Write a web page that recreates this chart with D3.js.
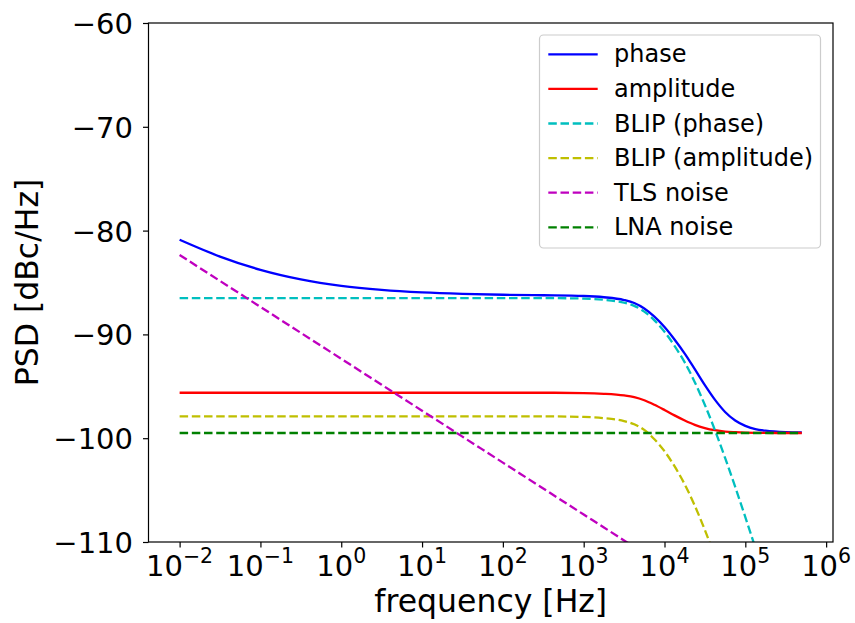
<!DOCTYPE html>
<html>
<head>
<meta charset="utf-8">
<script src="https://cdn.jsdelivr.net/npm/d3@7"></script>
<style>
  html, body { margin: 0; padding: 0; background: #fff; }
  svg { display: block; font-family: "DejaVu Sans", sans-serif; }
</style>
</head>
<body>
<svg id="chart" width="855" height="623"></svg>
<script>
// Frequency grid (Hz), shared by every noise component
const freqHz = [0.01, 0.0316, 0.1, 0.316, 1, 3.16, 10, 31.6, 100, 316,
  1000, 1780, 3160, 4220, 5620, 7500, 10000,
  13300, 17800, 23700, 31600, 42200, 56200, 75000, 100000,
  133000, 178000, 316000, 500000];

// Power spectral densities in dBc/Hz
const phasePSD = [-80.88, -82.50, -83.78, -84.70, -85.33, -85.72, -85.96, -86.10, -86.18, -86.23,
  -86.30, -86.42, -86.69, -86.98, -87.50, -88.29, -89.29,
  -90.49, -91.85, -93.35, -94.89, -96.31, -97.47, -98.29, -98.81,
  -99.12, -99.28, -99.42, -99.45];
const amplitudePSD = [-95.62, -95.62, -95.62, -95.62, -95.62, -95.62, -95.62, -95.62, -95.62, -95.62,
  -95.65, -95.72, -95.88, -96.04, -96.34, -96.78, -97.28,
  -97.80, -98.29, -98.71, -99.02, -99.23, -99.36, -99.42, -99.46,
  -99.48, -99.49, -99.50, -99.50];
const blipPhasePSD = [-86.5, -86.5, -86.5, -86.5, -86.5, -86.5, -86.5, -86.5, -86.5, -86.5,
  -86.55, -86.67, -86.95, -87.25, -87.8, -88.65, -89.75,
  -91.1, -92.7, -94.6, -96.8, -99.25, -101.9, -104.7, -107.6,
  -110.55, -113.55, -119.5, -124.3];
const blipAmpPSD = [-97.9, -97.9, -97.9, -97.9, -97.9, -97.9, -97.9, -97.9, -97.9, -97.9,
  -97.95, -98.07, -98.35, -98.65, -99.2, -100.1, -101.25,
  -102.7, -104.45, -106.5, -108.85, -111.45, -114.2, -117.1, -120.0,
  -122.95, -125.95, -131.9, -136.7];
const tlsPSD = [-82.35, -84.85, -87.35, -89.85, -92.35, -94.85, -97.35, -99.85, -102.35, -104.85,
  -107.35, -108.6, -109.85, -110.48, -111.1, -111.73, -112.35,
  -112.98, -113.6, -114.23, -114.85, -115.48, -116.1, -116.73, -117.35,
  -117.98, -118.6, -119.85, -120.85];
const lnaPSD = [-99.5, -99.5, -99.5, -99.5, -99.5, -99.5, -99.5, -99.5, -99.5, -99.5,
  -99.5, -99.5, -99.5, -99.5, -99.5, -99.5, -99.5,
  -99.5, -99.5, -99.5, -99.5, -99.5, -99.5, -99.5, -99.5,
  -99.5, -99.5, -99.5, -99.5];

const seriesNames = ["phase", "amplitude", "BLIP (phase)", "BLIP (amplitude)", "TLS noise", "LNA noise"];
const seriesColors = ["#0000ff", "#ff0000", "#00bfbf", "#bfbf00", "#bf00bf", "#008000"];
const seriesDashed = [false, false, true, true, true, true];
const seriesValues = [phasePSD, amplitudePSD, blipPhasePSD, blipAmpPSD, tlsPSD, lnaPSD];

const xTickValues = [1e-2, 1e-1, 1e0, 1e1, 1e2, 1e3, 1e4, 1e5, 1e6];
const xTickExponents = ["\u22122", "\u22121", "0", "1", "2", "3", "4", "5", "6"];
const yTickValues = [-110, -100, -90, -80, -70, -60];

const svg = d3.select("#chart");
const plot = { left: 148.5, right: 833, top: 23, bottom: 542 };

const x = d3.scaleLog()
  .domain([Math.pow(10, -2.385), Math.pow(10, 6.085)])
  .range([plot.left, plot.right]);
const y = d3.scaleLinear()
  .domain([-110, -60])
  .range([plot.bottom, plot.top]);

svg.append("defs").append("clipPath").attr("id", "plot-clip")
  .append("rect")
  .attr("x", plot.left).attr("y", plot.top)
  .attr("width", plot.right - plot.left).attr("height", plot.bottom - plot.top);

// Curves
const line = d3.line()
  .x(d => x(d[0]))
  .y(d => y(d[1]))
  .curve(d3.curveMonotoneX);

const curves = svg.append("g").attr("clip-path", "url(#plot-clip)");
seriesValues.forEach((vals, i) => {
  curves.append("path")
    .datum(freqHz.map((f, k) => [f, vals[k]]))
    .attr("d", line)
    .attr("fill", "none")
    .attr("stroke", seriesColors[i])
    .attr("stroke-width", 2.3)
    .attr("stroke-dasharray", seriesDashed[i] ? "8.5,3.7" : null);
});

// Axes
const tickFont = 29;
const xAxis = svg.append("g")
  .attr("transform", `translate(0,${plot.bottom})`)
  .call(d3.axisBottom(x).tickValues(xTickValues).tickFormat("").tickSize(5.5).tickSizeOuter(0));
xAxis.select(".domain").remove();
xAxis.selectAll(".tick line").attr("stroke", "#000").attr("stroke-width", 1.2);

const xLabels = svg.append("g");
xTickValues.forEach((v, i) => {
  const t = xLabels.append("text")
    .attr("x", x(v))
    .attr("y", 576)
    .attr("text-anchor", "middle")
    .attr("font-size", tickFont)
    .attr("fill", "#000");
  t.append("tspan").text("10");
  t.append("tspan").attr("dy", -13).attr("font-size", 20.5).text(xTickExponents[i]);
});

const yAxis = svg.append("g")
  .attr("transform", `translate(${plot.left},0)`)
  .call(d3.axisLeft(y).tickValues(yTickValues).tickFormat("").tickSize(5.5).tickSizeOuter(0));
yAxis.select(".domain").remove();
yAxis.selectAll(".tick line").attr("stroke", "#000").attr("stroke-width", 1.2);

svg.append("g").selectAll("text")
  .data(yTickValues)
  .join("text")
  .attr("x", 133)
  .attr("y", d => y(d) + 11)
  .attr("text-anchor", "end")
  .attr("font-size", tickFont)
  .attr("fill", "#000")
  .text(d => d3.format("d")(d).replace("-", "\u2212"));

// Frame
svg.append("rect")
  .attr("x", plot.left).attr("y", plot.top)
  .attr("width", plot.right - plot.left).attr("height", plot.bottom - plot.top)
  .attr("fill", "none").attr("stroke", "#000").attr("stroke-width", 1.2);

// Axis titles
svg.append("text")
  .attr("x", (plot.left + plot.right) / 2)
  .attr("y", 612)
  .attr("text-anchor", "middle")
  .attr("font-size", 31.5)
  .attr("fill", "#000")
  .text("frequency [Hz]");

svg.append("text")
  .attr("transform", `translate(38,${(plot.top + plot.bottom) / 2}) rotate(-90)`)
  .attr("text-anchor", "middle")
  .attr("font-size", 31.5)
  .attr("fill", "#000")
  .text("PSD [dBc/Hz]");

// Legend
const legend = svg.append("g");
legend.append("rect")
  .attr("x", 539.5).attr("y", 35)
  .attr("width", 281).attr("height", 213)
  .attr("rx", 4).attr("ry", 4)
  .attr("fill", "#fff").attr("fill-opacity", 0.8)
  .attr("stroke", "#cccccc").attr("stroke-width", 1.2);

seriesNames.forEach((name, i) => {
  const ry = 54.3 + i * 34.6;
  legend.append("line")
    .attr("x1", 548.3).attr("x2", 597.7)
    .attr("y1", ry).attr("y2", ry)
    .attr("stroke", seriesColors[i])
    .attr("stroke-width", 2.3)
    .attr("stroke-dasharray", seriesDashed[i] ? "8.5,3.7" : null);
  legend.append("text")
    .attr("x", 614)
    .attr("y", ry + 8)
    .attr("font-size", 24)
    .attr("fill", "#000")
    .text(name);
});
</script>
</body>
</html>
